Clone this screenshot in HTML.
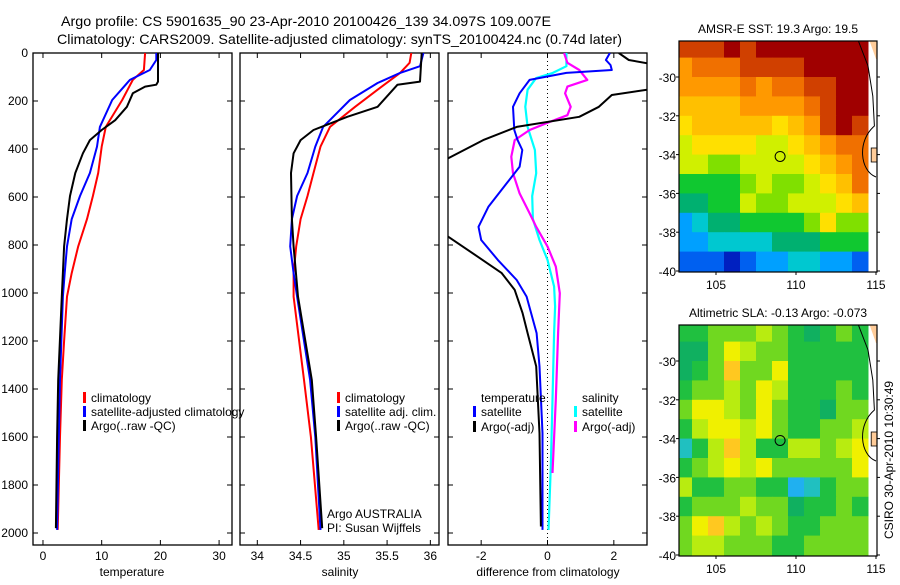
<!DOCTYPE html>
<html><head><meta charset="utf-8"><style>
body{margin:0;background:#fff;}
svg text{font-family:"Liberation Sans",sans-serif;fill:#000;}
</style></head><body>
<svg id="fig" width="900" height="580" xmlns="http://www.w3.org/2000/svg">
<rect width="900" height="580" fill="#fff"/>
<text x="61" y="26" font-size="14" textLength="490" lengthAdjust="spacingAndGlyphs">Argo profile: CS 5901635_90 23-Apr-2010 20100426_139 34.097S 109.007E</text>
<text x="57" y="44" font-size="14" textLength="565" lengthAdjust="spacingAndGlyphs">Climatology: CARS2009. Satellite-adjusted climatology: synTS_20100424.nc (0.74d later)</text>
<g id="g"></g>
</svg>
<script>
// ---------- profile data (pressure in dbar) ----------
const tP   = [0,71,112,196,308,390,500,596,692,806,917,1015,1200,1362,1600,1987];
const tClim= [17.4,17.2,15.3,13.5,10.7,10.0,9.4,8.5,7.5,6.0,4.9,4.1,3.6,3.2,2.9,2.5];
const tSatP= [0,29,71,112,196,308,390,500,596,692,806,917,1015,1362,1600,1987];
const tSat = [19.3,19.3,18.2,14.8,11.8,9.7,9.2,8.0,6.3,4.9,4.1,3.7,3.4,2.9,2.7,2.4];
const tArgP= [0,119,132,140,168,224,280,321,363,418,500,596,692,806,1015,1362,1600,1980];
const tArg = [19.6,19.6,19.3,17.4,15.3,14.3,12.3,10.0,8.0,6.8,5.5,4.6,4.1,3.6,3.2,2.6,2.4,2.2];

const sP   = [0,41,83,153,224,308,390,500,596,692,806,917,1015,1362,1600,1987];
const sClim= [35.78,35.76,35.65,35.39,35.13,34.84,34.73,34.65,34.58,34.50,34.45,34.42,34.42,34.54,34.62,34.71];
const sSatP= [0,55,83,125,196,308,390,500,596,692,806,917,1015,1362,1600,1987];
const sSat = [35.92,35.88,35.65,35.39,35.07,34.76,34.67,34.58,34.46,34.40,34.38,34.42,34.46,34.61,34.67,34.73];
const sArgP= [0,119,132,224,266,321,363,418,500,692,806,1015,1362,1600,1980];
const sArg = [35.90,35.88,35.62,35.39,35.04,34.65,34.50,34.42,34.39,34.40,34.42,34.47,34.63,34.68,34.75];

const dTSatP=[0,29,50,71,83,112,168,224,321,363,404,474,543,640,724,779,862,946,1015,1167,1306,1584,1987];
const dTSat =[1.88,1.76,1.9,1.94,0.57,-0.54,-0.84,-1.04,-1.0,-0.9,-0.76,-0.84,-1.23,-1.78,-2.08,-2.0,-1.5,-0.93,-0.63,-0.33,-0.24,-0.15,-0.15];
const dTArgP=[0,29,50,140,153,175,224,266,308,363,439,500,700,765,849,917,987,1084,1167,1306,1584,1973];
const dTArg =[2.15,2.45,3.3,3.3,3.0,1.94,1.55,0.96,-0.93,-1.94,-3.0,-3.6,-3.6,-3.0,-2.1,-1.38,-0.99,-0.75,-0.6,-0.34,-0.24,-0.2];
const dSSatP=[0,55,83,104,153,224,308,404,501,596,692,779,862,973,1056,1167,1445,1723,1987];
const dSSat =[0.57,0.57,0.16,-0.34,-0.6,-0.67,-0.6,-0.38,-0.34,-0.46,-0.44,-0.24,0.0,0.2,0.23,0.2,0.15,0.1,0.03];
const dSArgP=[0,41,71,112,140,168,224,259,287,321,363,432,501,585,668,724,806,890,1001,1167,1445,1750];
const dSArg =[0.5,0.6,0.96,1.2,0.6,0.53,0.7,0.6,0.07,-0.54,-0.99,-1.09,-1.04,-0.84,-0.54,-0.34,0.0,0.25,0.37,0.32,0.25,0.15];

const depthTicks=[0,200,400,600,800,1000,1200,1400,1600,1800,2000];
const tTicks=[0,10,20,30];
const sTicks=[34,34.5,35,35.5,36];
const dTicks=[-2,0,2];

// ---------- map data (colour level per 1x1 degree cell, rows north->south) ----------
const mapLons=[103,104,105,106,107,108,109,110,111,112,113,114];
const mapLats=[-28,-29,-30,-31,-32,-33,-34,-35,-36,-37,-38,-39];
const sstRows=[
[12,12,12,13,12,13,13,13,13,13,13,13],
[10,11,11,11,12,12,12,12,13,13,13,13],
[10,10,10,10,11,10,11,11,12,12,13,13],
[9,9,9,9,10,10,10,10,11,12,13,13],
[8,9,9,9,9,9,8,9,10,12,13,12],
[7,8,8,8,8,7,7,8,9,10,11,11],
[7,7,6,6,7,7,7,7,8,9,10,11],
[5,5,5,5,6,7,6,6,7,8,9,11],
[4,4,5,5,7,6,6,7,7,7,8,9],
[2,3,4,4,5,5,5,5,6,8,6,6],
[2,2,3,3,3,3,4,4,4,5,5,5],
[1,1,1,0,1,2,2,3,3,2,2,1]];
const slaRows=[
[5,5,6,6,6,7,6,5,4,5,6,5],
[4,4,6,8,7,6,6,5,5,5,5,5],
[4,5,6,9,6,6,8,5,5,5,5,5],
[5,6,6,7,6,8,7,5,5,5,6,5],
[6,8,8,7,6,8,6,5,5,4,6,6],
[5,7,8,8,7,8,6,5,5,6,6,7],
[3,5,7,9,7,5,5,7,7,6,7,8],
[5,6,7,8,7,8,6,6,6,6,6,8],
[7,5,5,6,6,5,5,2,3,5,6,6],
[5,6,6,6,7,6,6,4,5,5,6,5],
[6,8,9,7,6,7,6,5,5,6,6,6],
[6,7,7,6,6,6,5,5,6,6,6,6]];
const mapLatTicks=[-30,-32,-34,-36,-38,-40];
const mapLonTicks=[105,110,115];

const cmap=['#0020c0','#0060f0','#00a0ff','#00c8d0','#00b070','#10c830','#80e000','#d0f000','#ffe000','#ffc000','#ff9900','#f07000','#d04000','#a00000'];
const slaMap=['#0040e0','#0090ff','#20b0f0','#20c0c0','#10b060','#20c040','#70d820','#b8ec10','#f0f000','#ffc820'];

const NS='http://www.w3.org/2000/svg';
const G=document.getElementById('g');
function el(tag,attrs,parent){const e=document.createElementNS(NS,tag);for(const k in attrs)e.setAttribute(k,attrs[k]);(parent||G).appendChild(e);return e;}

const yTop=53, pxPerDbar=0.24, yBot=545;
function yP(p){return yTop+p*pxPerDbar;}

const panels=[
 {x0:33,x1:232,vmin:-1.7,vmax:32.2,ticks:tTicks,label:'temperature',lx:132,name:'temperature'},
 {x0:240,x1:439,vmin:33.8,vmax:36.1,ticks:sTicks,label:'salinity',lx:340,name:'salinity'},
 {x0:448,x1:647,vmin:-3,vmax:3,ticks:dTicks,label:'difference from climatology',lx:548,name:'difference'}
];
panels.forEach((pn,i)=>{
  pn.x=v=>pn.x0+(v-pn.vmin)/(pn.vmax-pn.vmin)*(pn.x1-pn.x0);
  const cp=el('clipPath',{id:'cp'+i});
  el('rect',{x:pn.x0,y:yTop,width:pn.x1-pn.x0,height:yBot-yTop},cp);
  const fr=el('rect',{x:pn.x0,y:yTop,width:pn.x1-pn.x0,height:yBot-yTop,fill:'none',stroke:'#000','stroke-width':1.3});
  
  
  depthTicks.forEach(d=>{
    const y=yP(d);
    el('line',{x1:pn.x0,x2:pn.x0+5,y1:y,y2:y,stroke:'#000'});
    el('line',{x1:pn.x1-5,x2:pn.x1,y1:y,y2:y,stroke:'#000'});
  });
  pn.ticks.forEach(v=>{
    const x=pn.x(v);
    el('line',{x1:x,x2:x,y1:yTop,y2:yTop+5,stroke:'#000'});
    el('line',{x1:x,x2:x,y1:yBot-5,y2:yBot,stroke:'#000'});
    const t=el('text',{x:x,y:yBot+15,'font-size':12,'text-anchor':'middle'});
    t.textContent=String(v);
    
    
  });
  const xl=el('text',{x:pn.lx,y:576,'font-size':12,'text-anchor':'middle'});
  xl.textContent=pn.label;
  
  
});
depthTicks.forEach(d=>{
  const t=el('text',{x:28,y:yP(d)+4,'font-size':12,'text-anchor':'end'});
  t.textContent=String(d);
  
  
});
// zero line
{const x=panels[2].x(0);const z=el('line',{x1:x,x2:x,y1:yTop,y2:yBot,stroke:'#000','stroke-dasharray':'1,3'});

}

function series(pi,ps,vs,color,w,name){
  const pn=panels[pi];
  const d=ps.map((p,k)=>(k?'L':'M')+pn.x(vs[k]).toFixed(1)+','+yP(p).toFixed(1)).join('');
  const e=el('path',{d:d,fill:'none',stroke:color,'stroke-width':w,'clip-path':'url(#cp'+pi+')','stroke-linejoin':'round'});
  
  
}
series(0,tP,tClim,'#f00',2,'temperature-climatology-line');
series(0,tSatP,tSat,'#00f',2,'temperature-satellite-line');
series(0,tArgP,tArg,'#000',2,'temperature-argo-line');
series(1,sP,sClim,'#f00',2,'salinity-climatology-line');
series(1,sSatP,sSat,'#00f',2,'salinity-satellite-line');
series(1,sArgP,sArg,'#000',2,'salinity-argo-line');
series(2,dSSatP,dSSat,'#0ff',2.2,'salinity-satellite-diff-line');
series(2,dSArgP,dSArg,'#f0f',2.2,'salinity-argo-diff-line');
series(2,dTSatP,dTSat,'#00f',2,'temperature-satellite-diff-line');
series(2,dTArgP,dTArg,'#000',2,'temperature-argo-diff-line');

function legend(x,y,color,label,name){
  if(color){const m=el('rect',{x:x,y:y-10,width:3,height:11,fill:color});
  
  }
  const t=el('text',{x:x+8,y:y,'font-size':12});
  t.textContent=label;
  
  
}
legend(83,402,'#f00','climatology','legend-temp-climatology');
legend(83,416,'#00f','satellite-adjusted climatology','legend-temp-satellite');
legend(83,430,'#000','Argo(..raw -QC)','legend-temp-argo');
legend(337,402,'#f00','climatology','legend-sal-climatology');
legend(337,416,'#00f','satellite adj. clim.','legend-sal-satellite');
legend(337,430,'#000','Argo(..raw -QC)','legend-sal-argo');
legend(473,402,null,'temperature','legend-diff-temperature-header');
legend(473,416,'#00f','satellite','legend-diff-temp-satellite');
legend(473,431,'#000','Argo(-adj)','legend-diff-temp-argo');
legend(574,402,null,'salinity','legend-diff-salinity-header');
legend(574,416,'#0ff','satellite','legend-diff-sal-satellite');
legend(574,431,'#f0f','Argo(-adj)','legend-diff-sal-argo');
{const a=el('text',{x:327,y:518,'font-size':12});a.textContent='Argo AUSTRALIA';


const b=el('text',{x:327,y:532,'font-size':12});b.textContent='PI: Susan Wijffels';

}

// ---------- maps ----------
function drawMap(top,rows,colors,title,name){
  const x0=679,x1=877,bot=top+231;
  const lonX=l=>716+(l-105)*16;
  const latY=l=>top+36+(-30-l)*19.4;
  const cp=el('clipPath',{id:'mcp'+name});
  el('rect',{x:x0,y:top,width:x1-x0,height:bot-top},cp);
  const g=el('g',{'clip-path':'url(#mcp'+name+')'});
  
  
  rows.forEach((row,r)=>row.forEach((v,c)=>{
    const xa=lonX(mapLons[c]-0.5), xb=lonX(mapLons[c]+0.5);
    const ya=latY(mapLats[r]+ (r==0?1:0)), yb=latY(mapLats[r]-1);
    const cell=el('rect',{x:xa,y:ya,width:xb-xa+0.5,height:yb-ya+0.5,fill:colors[Math.max(0,Math.min(colors.length-1,v))]},g);
    
    
  }));
  el('path',{d:`M${lonX(114.6)},${top} L${x1},${top} L${x1},${top+18} L${lonX(115)},${top+18} Z`,fill:'#ffcc99'},g);
  el('path',{d:`M${lonX(113.9)},${top} L${lonX(114.5)},${top+25} L${lonX(114.8)},${top+55} L${lonX(114.9)},${top+85} C${lonX(113.8)},${top+100} ${lonX(114)},${top+130} ${lonX(115)},${top+136}`,fill:'none',stroke:'#000','stroke-width':1},g);
  el('rect',{x:lonX(114.7),y:top+107,width:10,height:14,fill:'#ffcc99',stroke:'#000','stroke-width':0.8},g);
  const circ=el('circle',{cx:lonX(109.007),cy:latY(-34.097),r:5,fill:'none',stroke:'#000','stroke-width':1});
  
  
  const fr=el('rect',{x:x0,y:top,width:x1-x0,height:bot-top,fill:'none',stroke:'#000','stroke-width':1.2});
  
  
  mapLatTicks.forEach(l=>{
    const y=latY(l);
    el('line',{x1:x0-3,x2:x0,y1:y,y2:y,stroke:'#000'});
    el('line',{x1:x1,x2:x1+3,y1:y,y2:y,stroke:'#000'});
    const t=el('text',{x:x0-3,y:y+5,'font-size':12,'text-anchor':'end'});
    t.textContent=String(l);
    
    
  });
  mapLonTicks.forEach(l=>{
    const x=lonX(l);
    el('line',{x1:x,x2:x,y1:bot,y2:bot+3,stroke:'#000'});
    const t=el('text',{x:x,y:bot+17,'font-size':12,'text-anchor':'middle'});
    t.textContent=String(l);
    
    
  });
  const tt=el('text',{x:778,y:top-8,'font-size':12,'text-anchor':'middle'});
  tt.textContent=title;
  
  
}
drawMap(41,sstRows,cmap,'AMSR-E SST: 19.3 Argo: 19.5','sst-map');
drawMap(325,slaRows,slaMap,'Altimetric SLA: -0.13 Argo: -0.073','sla-map');

{const t=el('text',{x:0,y:0,'font-size':12,'text-anchor':'middle',transform:'translate(893,460) rotate(-90)'});
t.textContent='CSIRO 30-Apr-2010 10:30:49';

}
</script>
</body></html>
